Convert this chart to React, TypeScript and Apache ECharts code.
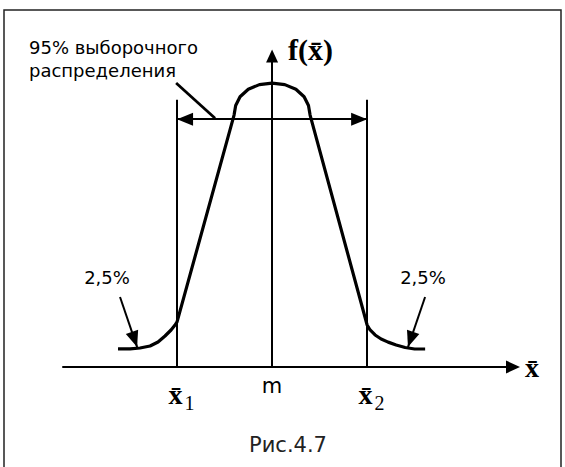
import React, { useEffect, useRef } from "react";
import * as echarts from "echarts";

// Sampling-distribution curve f(x̄), x in standardised units (x̄1 = -2, m = 0, x̄2 = 2)
const curveX = [
  -3.242, -2.989, -2.779, -2.568, -2.4, -2.253, -2.126, -2.042, -2.0,
  -0.8, -0.766, -0.674, -0.501, -0.267, 0, 0.267, 0.501, 0.674, 0.766, 0.8,
  2.0, 2.063, 2.168, 2.295, 2.442, 2.611, 2.8, 3.0, 3.221,
];
const curveY = [
  0.058, 0.058, 0.061, 0.0675, 0.0804, 0.0997, 0.119, 0.135, 0.145,
  0.81, 0.841, 0.869, 0.893, 0.908, 0.913, 0.908, 0.893, 0.869, 0.841, 0.81,
  0.135, 0.119, 0.103, 0.09, 0.08, 0.0707, 0.0627, 0.0579, 0.0579,
];

const boundValues = [-2, 2];
const boundTop = 0.859;
const intervalY = 0.797;
const tickValues = [-2, 0, 2];
const tickLabels = ["{x|x̄}{s|1}", "{m|m}", "{x|x̄}{s|2}"];
const leaderFrom = [-2.02, 0.913];
const leaderTo = [-1.2, 0.8];
const tailArrowLeft = [[-3.2, 0.225], [-2.84, 0.064]];
const tailArrowRight = [[3.22, 0.225], [2.86, 0.064]];
const annotation = "95% выборочного\nраспределения";
const tailLabel = "2,5%";
const caption = "Рис.4.7";

export default function App() {
  const ref = useRef<HTMLDivElement>(null);
  useEffect(() => {
    if (!ref.current) return;
    const chart = echarts.init(ref.current, null, { renderer: "svg" });
    const black = "#000";
    const tri = "triangle";
    chart.setOption({
      animation: false,
      backgroundColor: "#fff",
      grid: { left: 63, right: 52, top: 56, bottom: 100, outerBoundsMode: "none" },
      xAxis: {
        type: "value",
        min: -4.4,
        max: 5.07,
        name: "x̄",
        nameLocation: "end",
        nameGap: 12,
        nameTextStyle: {
          fontFamily: "Liberation Serif",
          fontWeight: "bold",
          fontSize: 28,
          color: black,
          verticalAlign: "middle",
          padding: [12, 0, 0, 0],
        },
        axisLine: {
          show: true,
          onZero: true,
          symbol: ["none", tri],
          symbolSize: [13, 14],
          lineStyle: { color: black, width: 2 },
        },
        axisTick: { show: false },
        splitLine: { show: false },
        axisLabel: {
          show: true,
          customValues: tickValues,
          margin: 8,
          formatter: (v: number) => {
            const i = tickValues.indexOf(v);
            return i >= 0 ? tickLabels[i] : "";
          },
          rich: {
            x: {
              fontFamily: "Liberation Serif",
              fontWeight: "bold",
              fontSize: 28,
              color: black,
              padding: [0, 0, 0, 9],
            },
            s: {
              fontFamily: "Liberation Serif",
              fontSize: 20,
              color: black,
              padding: [18, 0, 0, 2],
            },
            m: { fontFamily: "DejaVu Sans", fontSize: 21, color: black },
          },
        },
      },
      yAxis: {
        type: "value",
        min: 0,
        max: 1,
        name: "f(x̄)",
        nameLocation: "end",
        nameGap: 7,
        nameTextStyle: {
          fontFamily: "Liberation Serif",
          fontWeight: "bold",
          fontSize: 30,
          color: black,
          align: "left",
          verticalAlign: "middle",
          padding: [0, 0, 0, 16],
        },
        axisLine: {
          show: true,
          onZero: true,
          symbol: ["none", tri],
          symbolSize: [12, 13],
          lineStyle: { color: black, width: 2 },
        },
        axisTick: { show: false },
        axisLabel: { show: false },
        splitLine: { show: false },
      },
      series: [
        {
          type: "line",
          data: curveX.map((x, i) => [x, curveY[i]]),
          showSymbol: false,
          symbol: "none",
          lineStyle: { color: black, width: 3.2 },
          silent: true,
          markLine: {
            silent: true,
            animation: false,
            label: { show: false },
            symbol: ["none", "none"],
            symbolSize: [13, 16],
            symbolOffset: [[0, 8], [0, 8]],
            lineStyle: { color: black, width: 2, type: "solid" },
            data: [
              ...boundValues.map((b) => [
                { coord: [b, 0], symbol: "none" },
                { coord: [b, boundTop], symbol: "none" },
              ]),
              [
                { coord: [boundValues[0], intervalY], symbol: tri },
                { coord: [boundValues[1], intervalY], symbol: tri },
              ],
              [
                { coord: leaderFrom, symbol: "none", lineStyle: { width: 2.8 } },
                { coord: leaderTo, symbol: "none" },
              ],
              [
                { coord: tailArrowLeft[0], symbol: "none" },
                { coord: tailArrowLeft[1], symbol: tri },
              ],
              [
                { coord: tailArrowRight[0], symbol: "none" },
                { coord: tailArrowRight[1], symbol: tri },
              ],
            ],
          },
        },
      ],
      graphic: [
        {
          type: "rect",
          shape: { x: 4, y: 10, width: 557, height: 480 },
          style: { fill: "none", stroke: "#222", lineWidth: 1.5 },
          silent: true,
        },
        {
          type: "text",
          x: 29,
          y: 36,
          style: {
            text: annotation,
            font: "18px 'DejaVu Sans'",
            lineHeight: 23,
            fill: black,
          },
        },
        {
          type: "text",
          x: 107,
          y: 277,
          style: { text: tailLabel, font: "18px 'DejaVu Sans'", fill: black, align: "center", verticalAlign: "middle" },
        },
        {
          type: "text",
          x: 423,
          y: 277,
          style: { text: tailLabel, font: "18px 'DejaVu Sans'", fill: black, align: "center", verticalAlign: "middle" },
        },
        {
          type: "text",
          x: 288,
          y: 445,
          style: { text: caption, font: "21px 'DejaVu Sans'", fill: "#222", align: "center", verticalAlign: "middle" },
        },
      ],
    });
    return () => chart.dispose();
  }, []);
  return (
    <div
      ref={ref}
      style={{ position: "absolute", left: 0, top: 0, width: 565, height: 467, background: "#fff" }}
    />
  );
}
